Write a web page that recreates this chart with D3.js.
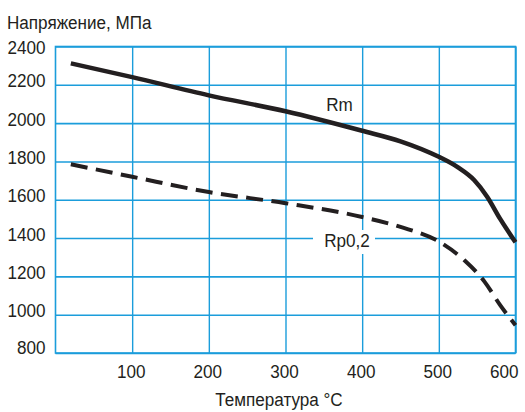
<!DOCTYPE html>
<html>
<head>
<meta charset="utf-8">
<script src="https://cdn.jsdelivr.net/npm/d3@7"></script>
<style>
  html, body { margin: 0; padding: 0; background: #fff; }
  svg { display: block; }
  text { font-family: "Liberation Sans", Arial, Helvetica, sans-serif; fill: #231f20; }
</style>
</head>
<body>
<svg id="chart" width="525" height="412"></svg>
<script>
// Temperature, °C
const rmTemps   = [20, 100, 200, 300, 400, 450, 500, 525, 546, 563, 580, 600];
// Tensile strength Rm, MPa
const rmValues  = [2312, 2240, 2145, 2062, 1960, 1905, 1824, 1769, 1703, 1616, 1500, 1378];
// Temperature, °C
const rpTemps   = [20, 100, 200, 300, 400, 450, 500, 533, 560, 580, 600];
// Yield strength Rp0,2, MPa
const rpValues  = [1785, 1720, 1640, 1582, 1510, 1458, 1382, 1285, 1170, 1050, 945];

const xTicks = [100, 200, 300, 400, 500, 600];
const yTicks = [800, 1000, 1200, 1400, 1600, 1800, 2000, 2200, 2400];

const yTitle = "Напряжение, МПа";
const xTitle = "Температура °C";
const rmLabel = "Rm";
const rpLabel = "Rp0,2";

const gridColor = "#1b9ddb";
const inkColor = "#231f20";
const fontSize = 19;
const squeeze = 0.9;

const svg = d3.select("#chart");
const plot = { left: 55.5, right: 515.5, top: 46.5, bottom: 353 };

const x = d3.scaleLinear().domain([0, 600]).range([plot.left, plot.right]);
const y = d3.scaleLinear().domain([800, 2400]).range([plot.bottom, plot.top]);

// Condensed text helper
function label(parent, px, py, txt, anchor) {
  const g = parent.append("g").attr("transform", `translate(${px},${py})`);
  g.append("text")
    .attr("transform", `scale(${squeeze},1)`)
    .attr("text-anchor", anchor || "start")
    .style("font-size", fontSize + "px")
    .text(txt);
  return g;
}

// Horizontal grid
const yGrid = svg.append("g")
  .attr("transform", `translate(${plot.left},0)`)
  .call(d3.axisLeft(y).tickValues(yTicks).tickSize(-(plot.right - plot.left)).tickFormat(""));
yGrid.select(".domain").remove();
yGrid.selectAll("line").attr("stroke", gridColor).attr("stroke-width", 1.6);

// Vertical grid
const xGrid = svg.append("g")
  .attr("transform", `translate(0,${plot.bottom})`)
  .call(d3.axisBottom(x).tickValues(xTicks).tickSize(-(plot.bottom - plot.top)).tickFormat(""));
xGrid.select(".domain").remove();
xGrid.selectAll("line").attr("stroke", gridColor).attr("stroke-width", 1.4);

// Frame
svg.append("rect")
  .attr("x", plot.left).attr("y", plot.top)
  .attr("width", plot.right - plot.left).attr("height", plot.bottom - plot.top)
  .attr("fill", "none").attr("stroke", gridColor).attr("stroke-width", 1.6);

// Y tick labels
const yAxis = svg.append("g")
  .attr("transform", `translate(${plot.left},0)`)
  .call(d3.axisLeft(y).tickValues(yTicks).tickFormat(d3.format("d")).tickSize(0).tickPadding(0));
yAxis.select(".domain").remove();
yAxis.selectAll(".tick text")
  .attr("x", 0).attr("dy", null)
  .attr("transform", (d, i) => {
    const off = i === yTicks.length - 1 ? 6.8 : (i === 0 ? 0.3 : 2);
    return `translate(-10,${off}) scale(${squeeze},1)`;
  })
  .attr("text-anchor", "end")
  .attr("fill", inkColor)
  .style("font-size", fontSize + "px");

// X tick labels
const xAxis = svg.append("g")
  .attr("transform", `translate(0,${plot.bottom})`)
  .call(d3.axisBottom(x).tickValues(xTicks).tickFormat(d3.format("d")).tickSize(0).tickPadding(0));
xAxis.select(".domain").remove();
xAxis.selectAll(".tick text")
  .attr("y", 0).attr("dy", null)
  .attr("transform", d => d === 600 ? `translate(2.5,25) scale(${squeeze},1)` : `translate(-1.5,25) scale(${squeeze},1)`)
  .attr("text-anchor", d => d === 600 ? "end" : "middle")
  .attr("fill", inkColor)
  .style("font-size", fontSize + "px");

// Axis titles
label(svg, 7, 28.5, yTitle, "start");
label(svg, 279, 406, xTitle, "middle");

// Curves
const line = d3.line()
  .x(d => x(d[0]))
  .y(d => y(d[1]))
  .curve(d3.curveMonotoneX);

const rmData = rmTemps.map((t, i) => [t, rmValues[i]]);
const rpData = rpTemps.map((t, i) => [t, rpValues[i]]);

svg.append("path")
  .datum(rpData)
  .attr("d", line)
  .attr("fill", "none")
  .attr("stroke", inkColor)
  .attr("stroke-width", 4)
  .attr("stroke-dasharray", "17,8.5");

svg.append("path")
  .datum(rmData)
  .attr("d", line)
  .attr("fill", "none")
  .attr("stroke", inkColor)
  .attr("stroke-width", 4.5);

// Curve labels
label(svg, 339.5, 110.7, rmLabel, "middle");
svg.append("rect")
  .attr("x", 313).attr("y", 230).attr("width", 62).attr("height", 24)
  .attr("fill", "#fff");
label(svg, 347, 247.3, rpLabel, "middle");
</script>
</body>
</html>
